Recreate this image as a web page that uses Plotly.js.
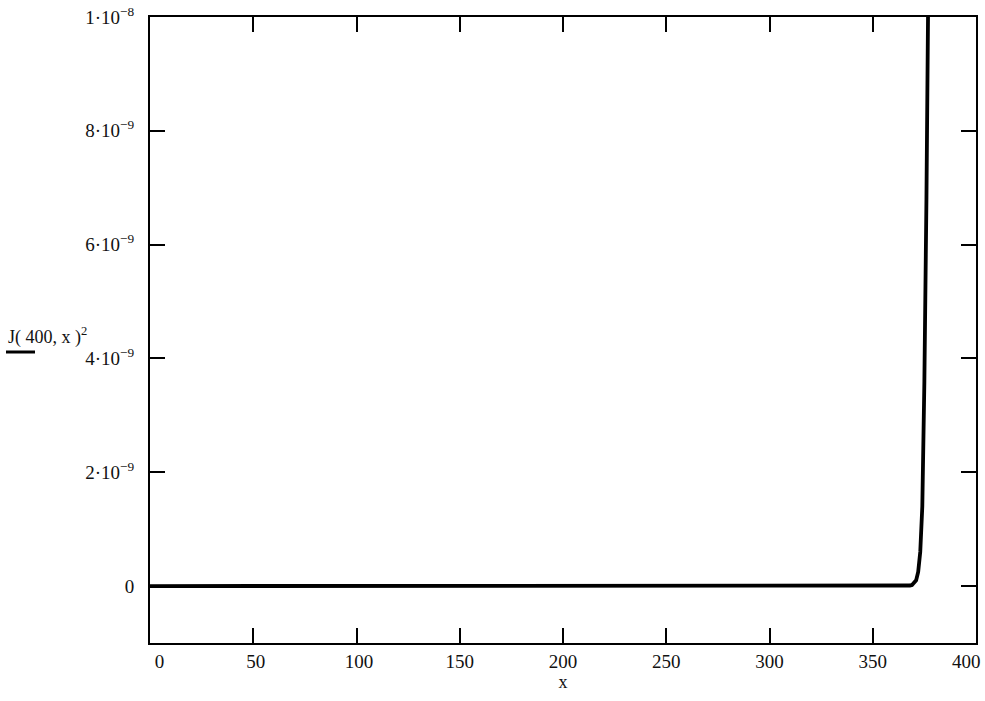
<!DOCTYPE html>
<html>
<head>
<meta charset="utf-8">
<script src="https://cdn.plot.ly/plotly-3.0.1.min.js"></script>
<style>html,body{margin:0;padding:0;background:#fff;}#chart{width:985px;height:701px;}</style>
</head>
<body>
<div id="chart"></div>
<script>
// x values and J(400,x)^2 values
const xValues = [0, 50, 100, 150, 200, 250, 300, 350, 360, 365, 367, 368, 369, 370, 371, 372, 373, 374, 375, 376, 377];
const yValues = [0, 0, 0, 0, 0, 0, 0, 0, 0, 0.002e-9, 0.005e-9, 0.01e-9, 0.02e-9, 0.05e-9, 0.1e-9, 0.25e-9, 0.6e-9, 1.4e-9, 3.6e-9, 6.8e-9, 11e-9];
const xTickVals = [0, 50, 100, 150, 200, 250, 300, 350, 400];
const xTickText = ["\u00a0\u00a0\u00a0\u00a00", "\u00a050", "\u00a0100", "150", "200", "250", "300", "350", ""];
const xLastLabel = "400";
const yTickVals = [0, 2e-9, 4e-9, 6e-9, 8e-9, 1e-8];
const yTickText = ["0", "2\u00b710<sup>\u22129</sup>", "4\u00b710<sup>\u22129</sup>", "6\u00b710<sup>\u22129</sup>", "8\u00b710<sup>\u22129</sup>", "1\u00b710<sup>\u22128</sup>"];
const xTitle = "x";
const yTitle = "J( 400, x )<sup>2</sup>";

const tickFont = {family: "Liberation Serif, Times New Roman, serif", size: 19, color: "#111"};
const titleFont = {family: "Liberation Serif, Times New Roman, serif", size: 18, color: "#111"};

const trace = {
  x: xValues, y: yValues, type: "scatter", mode: "lines",
  line: {color: "#000", width: 3.8},
  hoverinfo: "skip"
};

const axisCommon = {
  showline: true, mirror: "ticks", linecolor: "#000", linewidth: 2,
  ticks: "inside", ticklen: 15, tickwidth: 2, tickcolor: "#000",
  showgrid: false, zeroline: false, tickfont: tickFont
};

const layout = {
  width: 985, height: 701,
  margin: {l: 150, r: 9, t: 17, b: 58},
  paper_bgcolor: "#fff", plot_bgcolor: "#fff",
  showlegend: false,
  font: tickFont,
  xaxis: Object.assign({}, axisCommon, {
    range: [0, 400], tickmode: "array", tickvals: xTickVals,
    ticktext: xTickText,
    title: {text: xTitle, font: titleFont, standoff: 4}
  }),
  yaxis: Object.assign({}, axisCommon, {
    range: [-1e-9, 1e-8], tickmode: "array", tickvals: yTickVals,
    ticktext: yTickText, ticklabelstandoff: 10
  }),
  annotations: [{
    xref: "paper", yref: "paper", x: (6 - 150) / 826, y: (643 - 336) / 626,
    xanchor: "left", yanchor: "middle", showarrow: false,
    text: yTitle, font: titleFont
  }, {
    xref: "x", yref: "paper", x: xTickVals[xTickVals.length - 1], y: 0,
    xanchor: "right", yanchor: "top", xshift: 7, yshift: -6,
    showarrow: false, text: xLastLabel, font: tickFont
  }],
  shapes: [{
    type: "line", xref: "paper", yref: "paper",
    x0: (6 - 150) / 826, x1: (35 - 150) / 826,
    y0: (643 - 352) / 626, y1: (643 - 352) / 626,
    line: {color: "#000", width: 3}
  }]
};

Plotly.newPlot("chart", [trace], layout, {staticPlot: true, displayModeBar: false});
</script>
</body>
</html>
